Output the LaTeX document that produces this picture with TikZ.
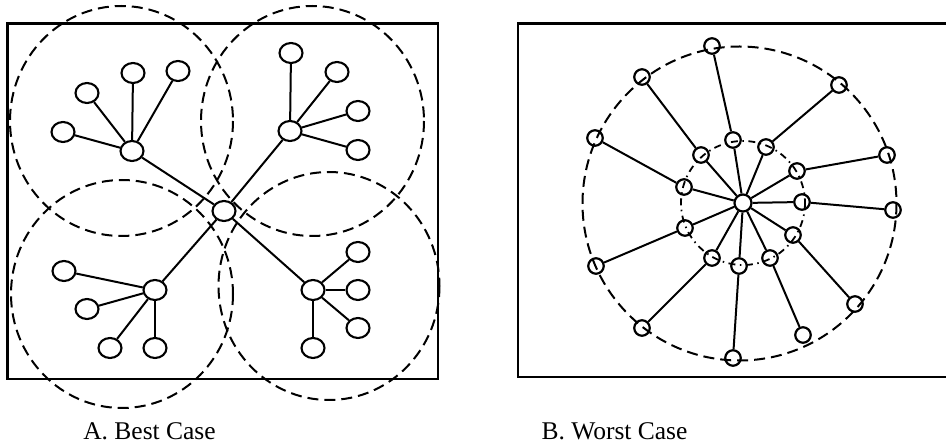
\documentclass[tikz,border=0pt]{standalone}
\usepackage{fontspec}
\setmainfont{Liberation Serif}
\usetikzlibrary{shapes.geometric}
\begin{document}
\begin{tikzpicture}[x=1pt,y=-1pt,
  frame/.style={line width=2.2pt},
  zone/.style={line width=2pt, dash pattern=on 11pt off 6pt},
  innerzone/.style={line width=1.8pt, dash pattern=on 7pt off 4.5pt on 1.5pt off 4.5pt},
  oval/.style={ellipse, draw, line width=2.1pt, minimum width=23pt, minimum height=20pt, inner sep=0pt},
  dotnode/.style={circle, draw, line width=2.2pt, minimum size=15.5pt, inner sep=0pt},
  hubnode/.style={dotnode, minimum size=17pt},
  link/.style={line width=2pt},
  caption/.style={anchor=base, font=\fontsize{25.5}{30}\selectfont, inner sep=0pt}]
\useasboundingbox (0,0) rectangle (946,446);

% ---------- A. Best Case ----------
\draw[frame] (7.5,23.5) rectangle (438,379);
\draw[zone] (121.5,121) ellipse [x radius=111.5, y radius=115];
\draw[zone] (312.5,121) ellipse [x radius=111.5, y radius=115];
\draw[zone] (122,294) ellipse [x radius=111, y radius=114];
\draw[zone] (329,286) ellipse [x radius=110.5, y radius=114];

\node[oval] (c) at (224,211) {};
% top-left cluster
\node[oval] (tl) at (132,151) {};
\node[oval] (tl1) at (63,132) {};
\node[oval] (tl2) at (87,93) {};
\node[oval] (tl3) at (133,73) {};
\node[oval] (tl4) at (178,71) {};
% top-right cluster
\node[oval] (tr) at (290,131) {};
\node[oval] (tr1) at (291,53) {};
\node[oval] (tr2) at (337,72) {};
\node[oval] (tr3) at (358,111) {};
\node[oval] (tr4) at (358,150) {};
% bottom-left cluster
\node[oval] (bl) at (155,290) {};
\node[oval] (bl1) at (64,271) {};
\node[oval] (bl2) at (87,309) {};
\node[oval] (bl3) at (110,348) {};
\node[oval] (bl4) at (155,348) {};
% bottom-right cluster
\node[oval] (br) at (313,290) {};
\node[oval] (br1) at (358,252) {};
\node[oval] (br2) at (358,290) {};
\node[oval] (br3) at (358,328) {};
\node[oval] (br4) at (313,348) {};

\foreach \h in {tl,tr,bl,br} {
  \draw[link] (c) -- (\h);
  \foreach \i in {1,2,3,4} \draw[link] (\h) -- (\h\i);
}

\node[caption] (capA) at (149.5,439) {A. Best Case};

% ---------- B. Worst Case ----------
\draw[frame] (952,23.5) -- (518,23.5) -- (518,377) -- (952,377);
\draw[zone] (739.5,203.5) circle [radius=157];
\draw[innerzone] (743,203) circle [radius=62];

\node[hubnode] (h) at (743,203) {};

\foreach \n/\ix/\iy/\ox/\oy in {
  1/733/140/712/46,
  2/766/147/839/85,
  3/797/171/887/155,
  4/802/202/893/210,
  5/793/235/855/304,
  6/770/258/803/335,
  7/739/266/733/358,
  8/712/258/642/328,
  9/685/228/596/266,
  10/684/187/595/138,
  11/701/155/642/77} {
  \node[dotnode] (i\n) at (\ix,\iy) {};
  \node[dotnode] (o\n) at (\ox,\oy) {};
  \draw[link] (h) -- (i\n);
  \draw[link] (i\n) -- (o\n);
}

\node[caption] (capB) at (614.5,439) {B. Worst Case};
\end{tikzpicture}
\end{document}
